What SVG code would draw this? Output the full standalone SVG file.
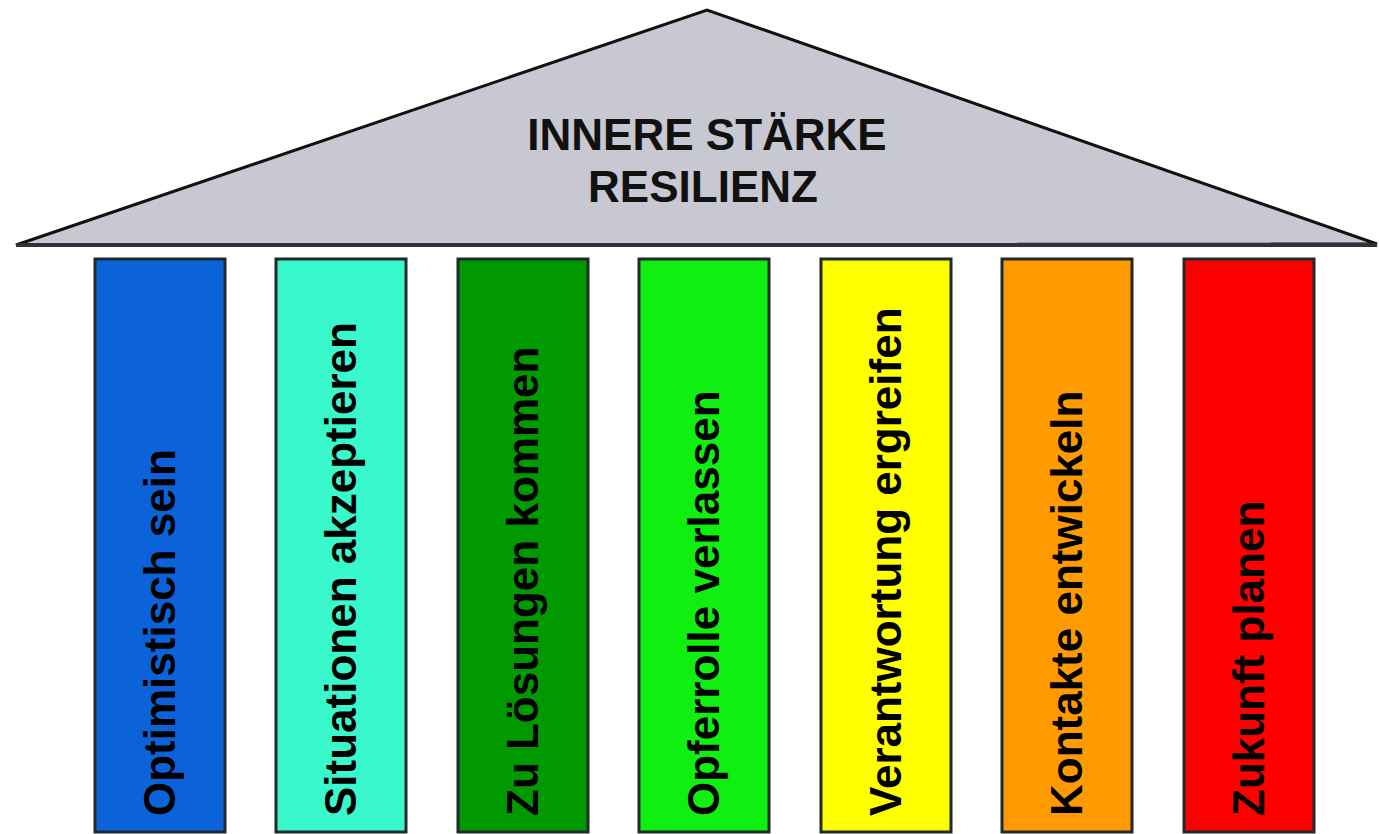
<svg xmlns="http://www.w3.org/2000/svg" width="1379" height="834" viewBox="0 0 1379 834">
<style>
.pillar{stroke:#1f2b2b;stroke-width:3}
.lbl{font-family:"Liberation Sans",Arial,sans-serif;font-weight:bold;font-size:44px;fill:#000}
.roof-t{font-family:"Liberation Sans",Arial,sans-serif;font-weight:bold;font-size:44px;fill:#111;text-anchor:middle}
</style>
<rect width="1379" height="834" fill="#ffffff"/>
<g id="roof">
<polygon points="16,245 707,10 1377,244" fill="#c8c8d2" stroke="#111" stroke-width="3" stroke-linejoin="miter"/>
<line x1="16" y1="245" x2="1377" y2="245" stroke="#2e3338" stroke-width="4"/>
<text class="roof-t" x="707" y="150">INNERE STÄRKE</text>
<text class="roof-t" x="703" y="202">RESILIENZ</text>
</g>
<g id="connectors"></g>
<g id="p1"><rect class="pillar" x="95" y="259" width="130" height="573" fill="#0b62d9" stroke="#1a3450"/><text class="lbl" transform="translate(175,816) rotate(-90)">Optimistisch sein</text></g>
<g id="p2"><rect class="pillar" x="276" y="259" width="130" height="573" fill="#38f8cc"/><text class="lbl" transform="translate(356,816) rotate(-90)">Situationen akzeptieren</text></g>
<g id="p3"><rect class="pillar" x="458" y="259" width="130" height="573" fill="#009a00" stroke="#0a240a"/><text class="lbl" transform="translate(538,816) rotate(-90)">Zu Lösungen kommen</text></g>
<g id="p4"><rect class="pillar" x="639" y="259" width="130" height="573" fill="#10f010" stroke="#1a4a1a"/><text class="lbl" transform="translate(719,816) rotate(-90)">Opferrolle verlassen</text></g>
<g id="p5"><rect class="pillar" x="821" y="259" width="130" height="573" fill="#ffff00" stroke="#4a4420"/><text class="lbl" transform="translate(901,816) rotate(-90)">Verantwortung ergreifen</text></g>
<g id="p6"><rect class="pillar" x="1002" y="259" width="130" height="573" fill="#ff9a00" stroke="#3a2a1a"/><text class="lbl" transform="translate(1082,816) rotate(-90)">Kontakte entwickeln</text></g>
<g id="p7"><rect class="pillar" x="1184" y="259" width="130" height="573" fill="#ff0000" stroke="#4a1010"/><text class="lbl" transform="translate(1264,816) rotate(-90)">Zukunft planen</text></g>
</svg>
